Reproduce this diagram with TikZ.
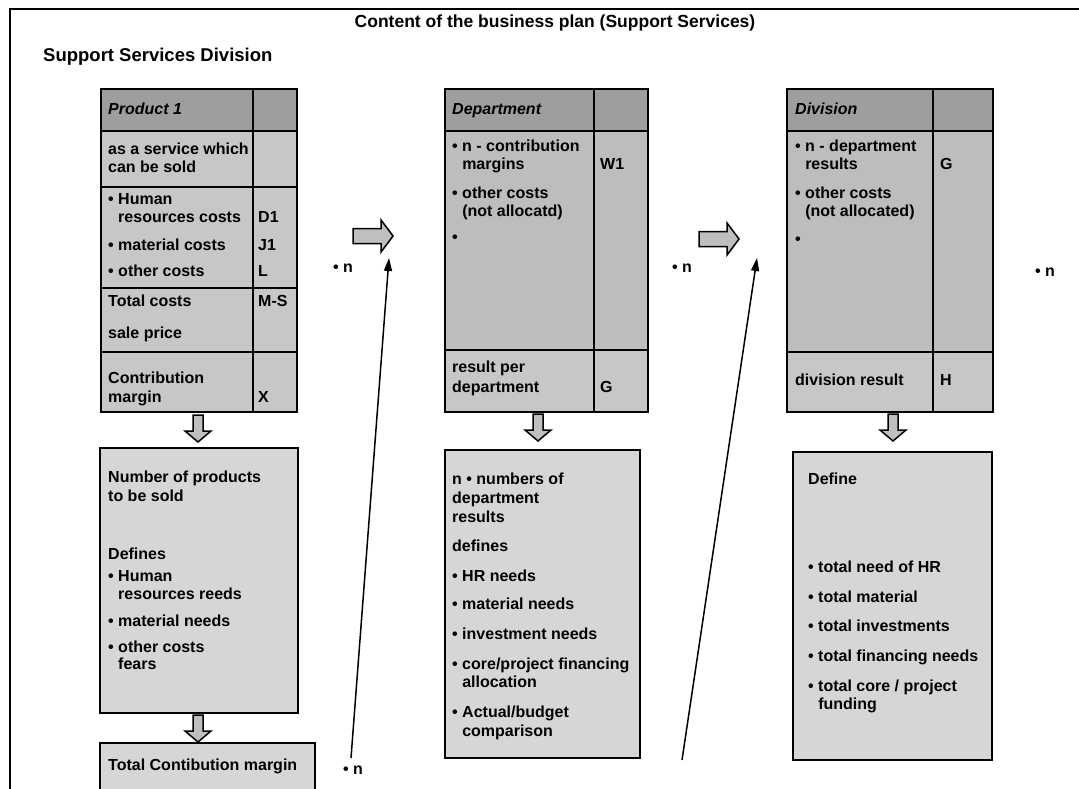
\documentclass[tikz,border=0pt]{standalone}
\usepackage{fontspec}
\setmainfont{Liberation Sans}
\usetikzlibrary{arrows.meta}

\definecolor{hdrgray}{gray}{0.62}
\definecolor{cellgray}{gray}{0.78}
\definecolor{bodygray}{gray}{0.74}
\definecolor{boxgray}{gray}{0.84}
\definecolor{arrgray}{gray}{0.75}

\newcommand\bulind{\phantom{\textbullet\ }}

\tikzset{
  lbl/.style={anchor=west, inner sep=0pt, font=\fontsize{16}{18}\selectfont\bfseries,
              text height=11.5pt, text depth=3pt},
  hdrlbl/.style={lbl, font=\fontsize{16}{18}\selectfont\bfseries\itshape},
  tline/.style={line width=2pt},
  boxline/.style={line width=1.6pt},
  blockarrow/.style={draw=black, fill=arrgray, line width=1.5pt, line join=miter},
  conn/.style={line width=1.5pt, -{Triangle[length=13pt,width=8pt]}},
  downarrow/.pic={\draw[blockarrow] (-5,0) -- (5,0) -- (5,16) -- (13,16) -- (0,27) -- (-13,16) -- (-5,16) -- cycle;},
  rightarrow/.pic={\draw[blockarrow] (0,-7.5) -- (28,-7.5) -- (28,-16) -- (40,0) -- (28,16) -- (28,7.5) -- (0,7.5) -- cycle;}
}

\begin{document}
\begin{tikzpicture}[x=1pt,y=-1pt]
\useasboundingbox (0,0) rectangle (1079,789);

% outer frame (top and left edges)
\draw[line width=1.5pt] (10,789) -- (10,9) -- (1079,9);

% headings
\node[lbl, anchor=center, font=\fontsize{17.5}{20}\selectfont\bfseries] (title) at (555,23)
  {Content of the business plan (Support Services)};
\node[lbl, font=\fontsize{18.5}{21}\selectfont\bfseries] (division) at (43,57) {Support Services Division};

% ---------- Product table ----------
\fill[hdrgray] (101,89) rectangle (297,131);
\fill[cellgray] (101,131) rectangle (297,412);
\draw[tline] (101,89) rectangle (297,412);
\draw[tline] (253,89) -- (253,412);
\foreach \yy in {131,187,288,352} \draw[tline] (101,\yy) -- (297,\yy);

\node[hdrlbl] (p1head) at (108,110) {Product 1};
\node[lbl] (p1a) at (108,150) {as a service which};
\node[lbl] (p1b) at (108,168) {can be sold};
\node[lbl] (p1c) at (108,200) {\textbullet\ Human};
\node[lbl] (p1d) at (108,218) {\bulind resources costs};
\node[lbl] (p1dv) at (258,218) {D1};
\node[lbl] (p1e) at (108,246) {\textbullet\ material costs};
\node[lbl] (p1ev) at (258,246) {J1};
\node[lbl] (p1f) at (108,272) {\textbullet\ other costs};
\node[lbl] (p1fv) at (258,272) {L};
\node[lbl] (p1g) at (108,302) {Total costs};
\node[lbl] (p1gv) at (258,302) {M-S};
\node[lbl] (p1k) at (108,334) {sale price};
\node[lbl] (p1m) at (108,379) {Contribution};
\node[lbl] (p1n) at (108,398) {margin};
\node[lbl] (p1nv) at (258,398) {X};

% ---------- Department table ----------
\fill[hdrgray] (445,89) rectangle (648,131);
\fill[bodygray] (445,131) rectangle (648,350);
\fill[cellgray] (445,350) rectangle (648,412);
\draw[tline] (445,89) rectangle (648,412);
\draw[tline] (594,89) -- (594,412);
\foreach \yy in {131,350} \draw[tline] (445,\yy) -- (648,\yy);

\node[hdrlbl] (dephead) at (452,110) {Department};
\node[lbl] (depa) at (452,147) {\textbullet\ n - contribution};
\node[lbl] (depb) at (452,165) {\bulind margins};
\node[lbl] (depbv) at (600,165) {W1};
\node[lbl] (depc) at (452,194) {\textbullet\ other costs};
\node[lbl] (depd) at (452,212) {\bulind (not allocatd)};
\node[lbl] (depe) at (452,238) {\textbullet};
\node[lbl] (depf) at (452,368) {result per};
\node[lbl] (depg) at (452,388) {department};
\node[lbl] (depgv) at (600,388) {G};

% ---------- Division table ----------
\fill[hdrgray] (787,89) rectangle (993,131);
\fill[bodygray] (787,131) rectangle (993,352);
\fill[cellgray] (787,352) rectangle (993,412);
\draw[tline] (787,89) rectangle (993,412);
\draw[tline] (933,89) -- (933,412);
\foreach \yy in {131,352} \draw[tline] (787,\yy) -- (993,\yy);

\node[hdrlbl] (divhead) at (795,110) {Division};
\node[lbl] (diva) at (795,147) {\textbullet\ n - department};
\node[lbl] (divb) at (795,165) {\bulind results};
\node[lbl] (divbv) at (940,165) {G};
\node[lbl] (divc) at (795,194) {\textbullet\ other costs};
\node[lbl] (divd) at (795,212) {\bulind (not allocated)};
\node[lbl] (dive) at (795,240) {\textbullet};
\node[lbl] (divf) at (795,381) {division result};
\node[lbl] (divfv) at (940,381) {H};

% ---------- lower boxes ----------
\draw[boxline, fill=boxgray] (100,448) rectangle (298,713);
\node[lbl] (b1a) at (108,478) {Number of products};
\node[lbl] (b1b) at (108,497) {to be sold};
\node[lbl] (b1c) at (108,555) {Defines};
\node[lbl] (b1d) at (108,577) {\textbullet\ Human};
\node[lbl] (b1e) at (108,595) {\bulind resources reeds};
\node[lbl] (b1f) at (108,622) {\textbullet\ material needs};
\node[lbl] (b1g) at (108,648) {\textbullet\ other costs};
\node[lbl] (b1h) at (108,665) {\bulind fears};

\draw[boxline, fill=boxgray] (100,743) rectangle (315,800);
\node[lbl] (total) at (108,766) {Total Contibution margin};

\draw[boxline, fill=boxgray] (445,450) rectangle (640,758);
\node[lbl] (b2a) at (452,480) {n \textbullet\ numbers of};
\node[lbl] (b2b) at (452,499) {department};
\node[lbl] (b2c) at (452,518) {results};
\node[lbl] (b2d) at (452,547) {defines};
\node[lbl] (b2e) at (452,577) {\textbullet\ HR needs};
\node[lbl] (b2f) at (452,605) {\textbullet\ material needs};
\node[lbl] (b2g) at (452,635) {\textbullet\ investment needs};
\node[lbl] (b2h) at (452,665) {\textbullet\ core/project financing};
\node[lbl] (b2i) at (452,683) {\bulind allocation};
\node[lbl] (b2j) at (452,713) {\textbullet\ Actual/budget};
\node[lbl] (b2k) at (452,732) {\bulind comparison};

\draw[boxline, fill=boxgray] (793,452) rectangle (992,760);
\node[lbl] (b3a) at (808,480) {Define};
\node[lbl] (b3b) at (808,568) {\textbullet\ total need of HR};
\node[lbl] (b3c) at (808,598) {\textbullet\ total material};
\node[lbl] (b3d) at (808,627) {\textbullet\ total investments};
\node[lbl] (b3e) at (808,657) {\textbullet\ total financing needs};
\node[lbl] (b3f) at (808,687) {\textbullet\ total core / project};
\node[lbl] (b3g) at (808,705) {\bulind funding};

% ---------- block arrows ----------
\pic at (198,415) {downarrow};
\pic at (198,715) {downarrow};
\pic at (538,414) {downarrow};
\pic at (893,414) {downarrow};
\pic at (353,236) {rightarrow};
\pic at (699,239) {rightarrow};

% ---------- multiplicity markers ----------
\node[lbl] (n1) at (333,268) {\textbullet\ n};
\node[lbl] (n2) at (672,268) {\textbullet\ n};
\node[lbl] (n3) at (1035,272) {\textbullet\ n};
\node[lbl] (n4) at (343,770) {\textbullet\ n};

% ---------- feedback lines ----------
\coordinate (l1s) at (351,758);
\coordinate (l1e) at (389,258);
\coordinate (l2s) at (682,760);
\coordinate (l2e) at (757,258);
\draw[conn] (l1s) -- (l1e);
\draw[conn] (l2s) -- (l2e);

\end{tikzpicture}
\end{document}
